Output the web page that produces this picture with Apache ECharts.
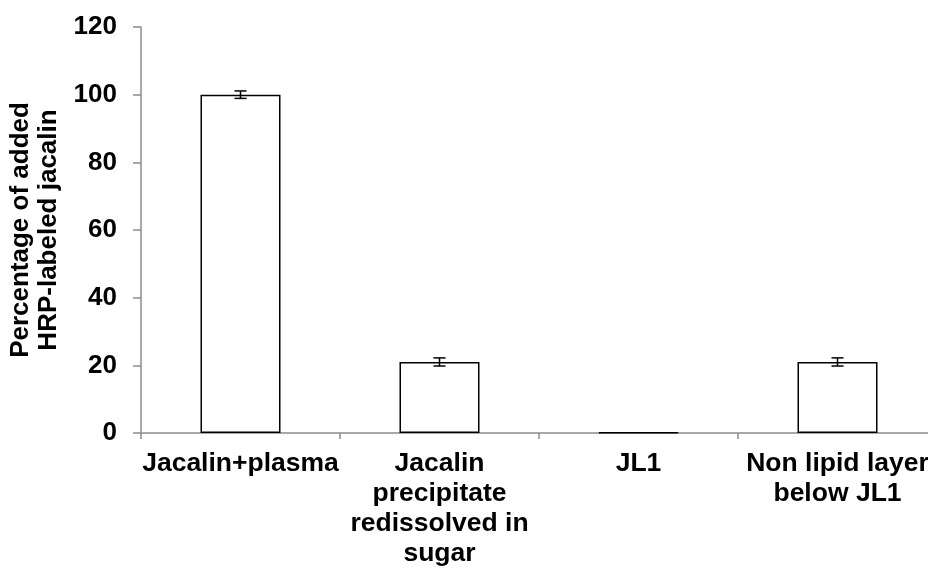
<!DOCTYPE html>
<html>
<head>
<meta charset="utf-8">
<script src="https://cdn.jsdelivr.net/npm/echarts@6/dist/echarts.min.js"></script>
<style>
  html, body { margin: 0; padding: 0; background: #fff; }
  #container { width: 928px; height: 570px; }
</style>
</head>
<body>
<div id="container"></div>
<script>
// values
const categories = ['Jacalin+plasma', 'Jacalin\nprecipitate\nredissolved in\nsugar', 'JL1', 'Non lipid layer\nbelow JL1']
const values = [100, 21, 0.2, 21]
const errors = [1.1, 1.2, 0, 1.2]

const font = 'Liberation Sans, Arial, sans-serif'
const axisGrey = '#8c8c8c'

let mychart = echarts.init(document.getElementById('container'))

let options = {
    animation: false,
    grid: {
        left: 141,
        top: 27,
        bottom: 137,
        width: 796,
        outerBoundsMode: 'none'
    },
    xAxis: {
        type: 'category',
        data: categories,
        boundaryGap: true,
        axisLine: { lineStyle: { color: axisGrey, width: 1.5 } },
        axisTick: { show: true, length: 6, lineStyle: { color: axisGrey, width: 1.5 } },
        axisLabel: {
            interval: 0,
            margin: 16,
            color: '#000',
            fontFamily: font,
            fontWeight: 'bold',
            fontSize: 26.5,
            lineHeight: 30
        }
    },
    yAxis: {
        type: 'value',
        min: 0,
        max: 120,
        interval: 20,
        name: 'Percentage of added\nHRP-labeled jacalin',
        nameLocation: 'middle',
        nameRotate: 90,
        nameGap: 78,
        nameTextStyle: {
            color: '#000',
            fontFamily: font,
            fontWeight: 'bold',
            fontSize: 26,
            lineHeight: 28
        },
        axisLine: { show: true, lineStyle: { color: axisGrey, width: 1.5 } },
        axisTick: { show: true, length: 8, lineStyle: { color: axisGrey, width: 1.5 } },
        axisLabel: {
            margin: 24,
            color: '#000',
            fontFamily: font,
            fontWeight: 'bold',
            fontSize: 26
        },
        splitLine: { show: false }
    },
    series: [
        {
            type: 'bar',
            data: values,
            barWidth: 80,
            itemStyle: {
                color: '#fff',
                borderColor: '#000',
                borderWidth: 1.5
            },
            z: 2
        },
        {
            type: 'custom',
            data: values.map((v, i) => [i, v - errors[i], v + errors[i]]),
            z: 3,
            renderItem: (params, api) => {
                if (errors[params.dataIndex] === 0) return null
                let lo = api.coord([api.value(0), api.value(1)])
                let hi = api.coord([api.value(0), api.value(2)])
                let half = 6
                let style = { stroke: '#000', lineWidth: 1.5 }
                return {
                    type: 'group',
                    children: [
                        { type: 'line', shape: { x1: lo[0], y1: lo[1], x2: hi[0], y2: hi[1] }, style },
                        { type: 'line', shape: { x1: hi[0] - half, y1: hi[1], x2: hi[0] + half, y2: hi[1] }, style },
                        { type: 'line', shape: { x1: lo[0] - half, y1: lo[1], x2: lo[0] + half, y2: lo[1] }, style }
                    ]
                }
            }
        }
    ]
}

mychart.setOption(options)
</script>
</body>
</html>
